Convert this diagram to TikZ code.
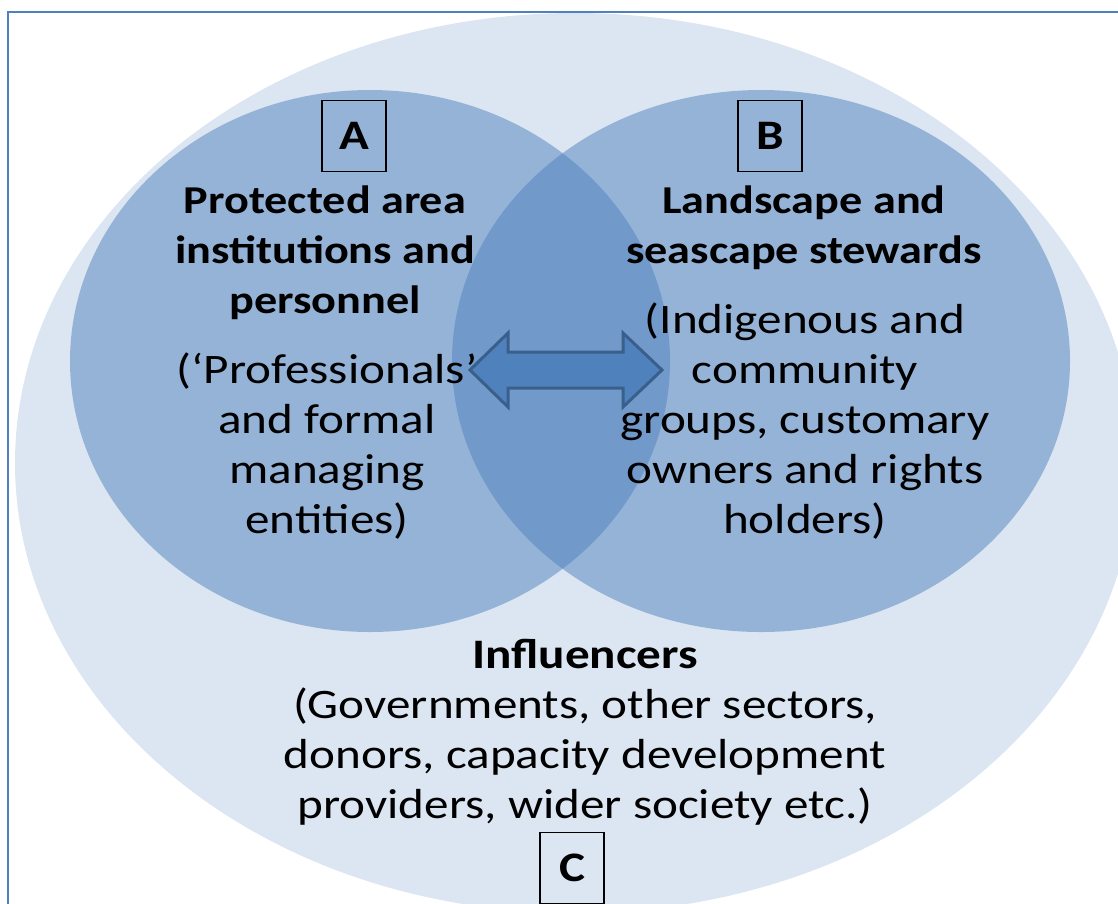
\documentclass[tikz,border=0pt]{standalone}
\usepackage{fontspec}
\setmainfont{Carlito}[FakeStretch=1.17]
\definecolor{frameblue}{HTML}{4F81BD}
\definecolor{lightbg}{HTML}{DCE6F2}
\definecolor{midblue}{HTML}{4F81BD}
\definecolor{arrowline}{HTML}{3A5F8B}
\tikzset{
  circ/.style={fill=midblue, fill opacity=0.5, draw=none},
  letterbox/.style={draw=black, line width=1.3pt, minimum width=64pt, minimum height=71pt, inner sep=0pt, font=\fontsize{42}{50}\selectfont\bfseries},
  titleline/.style={anchor=base, inner sep=0pt, font=\fontsize{42}{50}\selectfont\bfseries},
  circtitle/.style={anchor=base, inner sep=0pt, font=\fontsize{39.5}{50}\selectfont\bfseries},
  bodyline/.style={anchor=base, inner sep=0pt, font=\fontsize{42}{50}\selectfont},
}
\begin{document}
\begin{tikzpicture}[x=1pt,y=-1pt]
\useasboundingbox (0,0) rectangle (1118,903);
% outer influencer ellipse
\fill[lightbg] (575,463) ellipse [x radius=560, y radius=450];
% circles A and B
\fill[circ] (370,361) ellipse [x radius=300, y radius=271];
\fill[circ] (761,361) ellipse [x radius=309, y radius=271];
% frame
\draw[frameblue, line width=2pt] (8,12) rectangle (1140,930);
% double arrow
\filldraw[fill=midblue, draw=arrowline, line width=3pt, line join=miter]
  (470,370) -- (508,333) -- (508,352) -- (623,352) -- (623,333) -- (662,370)
  -- (623,407) -- (623,388) -- (508,388) -- (508,407) -- cycle;
% letter boxes
\node[letterbox] (boxA) at (354,136) {A};
\node[letterbox] (boxB) at (770,136) {B};
\node[letterbox] (boxC) at (572,868) {C};
% A texts
\foreach \t [count=\i] in {{Protected area}, {institutions and}, {personnel}}
  \node[circtitle] (at\i) at (325,{213+50*(\i-1)}) {\t};
\foreach \t [count=\i] in {{(‘Professionals’}, {and formal}, {managing}, {entities)}}
  \node[bodyline] (ab\i) at (327,{383+50*(\i-1)}) {\t};
% B texts
\foreach \t [count=\i] in {{Landscape and}, {seascape stewards}}
  \node[circtitle] (bt\i) at (804,{213+50*(\i-1)}) {\t};
\foreach \t [count=\i] in {{(Indigenous and}, {community}, {groups, customary}, {owners and rights}, {holders)}}
  \node[bodyline] (bb\i) at (805,{333+50*(\i-1)}) {\t};
% C texts
\node[titleline] (ct) at (585,668) {Influencers};
\foreach \t [count=\i] in {{(Governments, other sectors,}, {donors, capacity development}, {providers, wider society etc.)}}
  \node[bodyline] (cb\i) at (585,{718+50*(\i-1)}) {\t};
\end{tikzpicture}
\end{document}
